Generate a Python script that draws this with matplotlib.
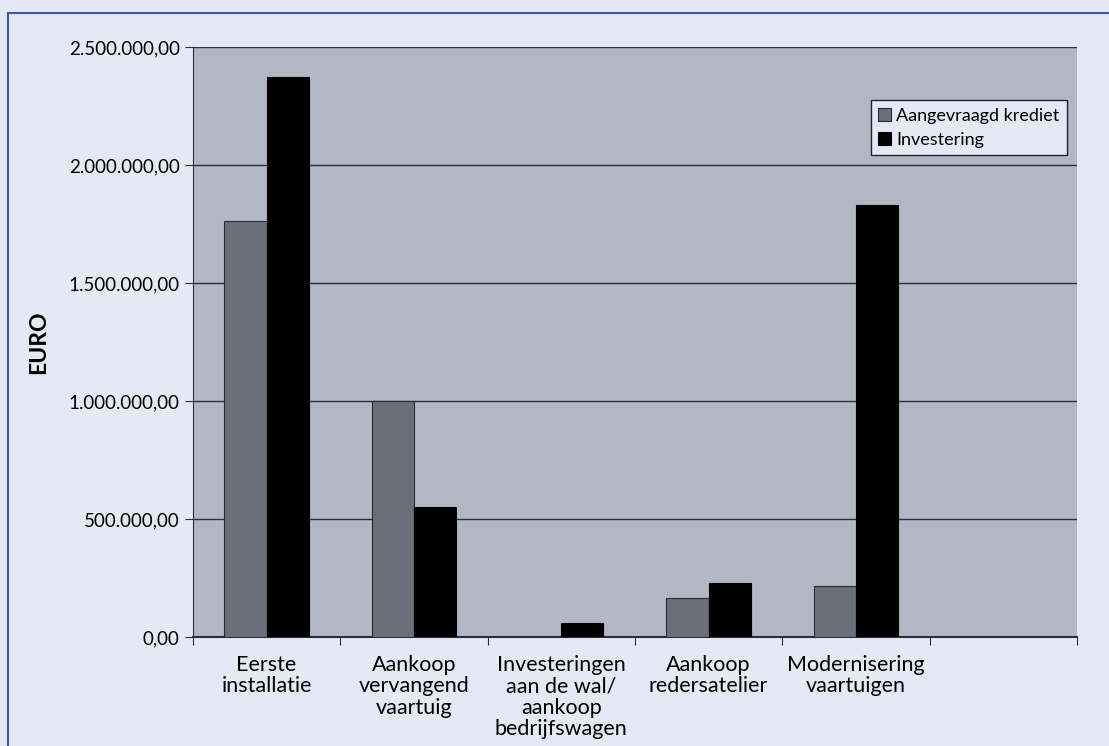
import matplotlib.pyplot as plt
from matplotlib.ticker import FuncFormatter, FixedLocator
from matplotlib.patches import Rectangle
import numpy as np

categories = ["Eerste\ninstallatie", "Aankoop\nvervangend\nvaartuig",
              "Investeringen\naan de wal/\naankoop\nbedrijfswagen",
              "Aankoop\nredersatelier", "Modernisering\nvaartuigen", ""]
krediet = [1763000, 1000000, 0, 165000, 216000, 0]
investering = [2373000, 551000, 60000, 229000, 1830000, 0]
series_names = ["Aangevraagd krediet", "Investering"]

plt.rcParams['font.family'] = ['Lato', 'DejaVu Sans']

figBg = "#e5e9f6"
fig = plt.figure(figsize=(11.09, 7.46), dpi=100, facecolor=figBg)
ax = fig.add_axes([0.174, 0.146, 0.797, 0.791])
ax.set_facecolor("#b3b7c4")

x = np.arange(len(categories))
w = 0.286
ax.bar(x - w / 2, krediet, width=w, color="#6c6e78", edgecolor="#2a2c35", linewidth=0.8,
       label=series_names[0], zorder=3)
ax.bar(x + w / 2, investering, width=w, color="black", edgecolor="black", linewidth=0.8,
       label=series_names[1], zorder=3)

ax.set_xlim(-0.5, len(categories) - 0.5)
ax.set_ylim(0, 2500000)
ax.set_yticks(np.arange(0, 2500001, 500000))
ax.yaxis.set_major_formatter(FuncFormatter(
    lambda v, p: "{:,.2f}".format(v).replace(",", "X").replace(".", ",").replace("X", ".")))
ax.grid(axis="y", color="#2b2d38", linewidth=1.0, zorder=1)

# category ticks between groups, labels centered
ax.xaxis.set_major_locator(FixedLocator(np.arange(-0.5, len(categories), 1.0)))
ax.xaxis.set_major_formatter(FuncFormatter(lambda v, p: ""))
ax.xaxis.set_minor_locator(FixedLocator(x))
ax.set_xticklabels(categories, minor=True)
for lbl in ax.get_xticklabels(minor=True):
    lbl.set_linespacing(1.08)
ax.tick_params(axis="x", which="minor", length=0, labelsize=15.5, pad=13)
ax.tick_params(axis="x", which="major", length=6, direction="out", color="#2b2d38")
ax.tick_params(axis="y", length=6, direction="out", labelsize=13.5, color="#2b2d38")

for sp in ["top", "right"]:
    ax.spines[sp].set_visible(False)
ax.spines["left"].set_color("#2b2d38")
ax.spines["bottom"].set_color("#2b2d38")
ax.spines["bottom"].set_linewidth(1.5)

ax.set_ylabel("EURO", fontsize=16.5, fontweight="bold", labelpad=14)

leg = ax.legend(loc="upper right", bbox_to_anchor=(0.999, 0.925), fontsize=13,
                frameon=True, fancybox=False, handlelength=0.7, handleheight=0.7,
                handletextpad=0.3, borderpad=0.4, labelspacing=0.45)
leg.get_frame().set_facecolor(figBg)
leg.get_frame().set_edgecolor("#222222")
leg.get_frame().set_alpha(1)

# blue border of the figure
fig.patches.append(Rectangle((8 / 1109, -0.1), 1.2, 1 - 13 / 746 + 0.1, transform=fig.transFigure,
                             fill=False, edgecolor="#3a55b0", linewidth=1.5))

fig.savefig("out.png", dpi=100, facecolor=figBg)
